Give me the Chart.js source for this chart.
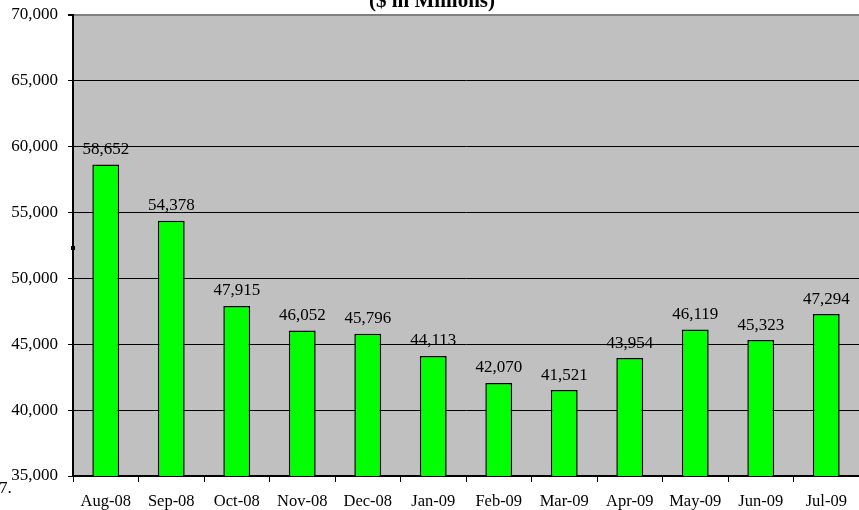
<!DOCTYPE html>
<html>
<head>
<meta charset="utf-8">
<script src="https://cdn.jsdelivr.net/npm/chart.js@4/dist/chart.umd.min.js"></script>
<style>
  html, body { margin: 0; padding: 0; background: #ffffff; overflow: hidden; }
  #wrap { width: 859px; height: 510px; position: relative; }
</style>
</head>
<body>
<div id="wrap"><canvas id="c" width="859" height="510"></canvas></div>
<script>
// Monthly totals, $ in millions
const months = ['Aug-08', 'Sep-08', 'Oct-08', 'Nov-08', 'Dec-08', 'Jan-09', 'Feb-09', 'Mar-09', 'Apr-09', 'May-09', 'Jun-09', 'Jul-09'];
const totals = [58652, 54378, 47915, 46052, 45796, 44113, 42070, 41521, 43954, 46119, 45323, 47294];
const yMin = 35000;
const yMax = 70000;
const yStep = 5000;
const titleText = '($ in Millions)';
const sideNote = '7.';

const SERIF = '"Liberation Serif", "Times New Roman", serif';
const fmt = v => v.toLocaleString('en-US');

// Gray plot background
const plotBackground = {
  id: 'plotBackground',
  beforeDraw(chart) {
    const { ctx, chartArea: a } = chart;
    ctx.save();
    ctx.fillStyle = '#c0c0c0';
    ctx.fillRect(a.left, a.top, a.right - a.left, a.bottom - a.top);
    ctx.restore();
  }
};

// Value labels above each bar, plus title and margin note
const annotations = {
  id: 'annotations',
  afterDatasetsDraw(chart) {
    const { ctx } = chart;
    const meta = chart.getDatasetMeta(0);
    ctx.save();
    ctx.fillStyle = '#000';
    ctx.font = '17px ' + SERIF;
    ctx.textAlign = 'center';
    ctx.textBaseline = 'middle';
    meta.data.forEach((bar, i) => {
      ctx.fillText(fmt(totals[i]), bar.x, bar.y - 15);
    });

    ctx.font = 'bold 21px ' + SERIF;
    ctx.textBaseline = 'alphabetic';
    ctx.fillText(titleText, 432, 7);

    ctx.font = '17px ' + SERIF;
    ctx.textAlign = 'left';
    ctx.textBaseline = 'middle';
    ctx.fillText(sideNote, -1, 489);

    ctx.fillRect(71, 246, 4, 4);
    ctx.restore();
  }
};

new Chart(document.getElementById('c'), {
  type: 'bar',
  data: {
    labels: months,
    datasets: [{
      data: totals,
      backgroundColor: '#00ff00',
      borderColor: '#000000',
      borderWidth: 1.5,
      categoryPercentage: 1,
      barPercentage: 0.41
    }]
  },
  options: {
    responsive: false,
    animation: false,
    layout: { padding: { top: 15, right: 0, left: 0, bottom: 0 } },
    plugins: {
      legend: { display: false },
      tooltip: { enabled: false },
      title: { display: false }
    },
    scales: {
      x: {
        offset: true,
        grid: {
          offset: true,
          drawOnChartArea: false,
          drawTicks: true,
          tickLength: 6,
          color: '#000'
        },
        border: { color: '#000', width: 2 },
        ticks: {
          color: '#000',
          font: { family: SERIF, size: 16.5 },
          padding: 10,
          maxRotation: 0,
          autoSkip: false
        },
        afterFit(scale) {
          scale.height = 34;
          scale.paddingLeft = 0;
          scale.paddingRight = 0;
        }
      },
      y: {
        min: yMin,
        max: yMax,
        grid: {
          color: ctx => (ctx.tick && ctx.tick.value === yMax) ? '#808080' : '#000',
          lineWidth: ctx => (ctx.tick && ctx.tick.value === yMax) ? 2 : 1,
          drawTicks: true,
          tickLength: 5,
          tickColor: '#000'
        },
        border: { color: '#000', width: 2 },
        ticks: {
          stepSize: yStep,
          color: '#000',
          font: { family: SERIF, size: 17 },
          padding: 10,
          callback: v => fmt(v)
        },
        afterFit(scale) {
          scale.width = 73;
          scale.paddingTop = 0;
          scale.paddingBottom = 0;
        }
      }
    }
  },
  plugins: [plotBackground, annotations]
});
</script>
</body>
</html>
